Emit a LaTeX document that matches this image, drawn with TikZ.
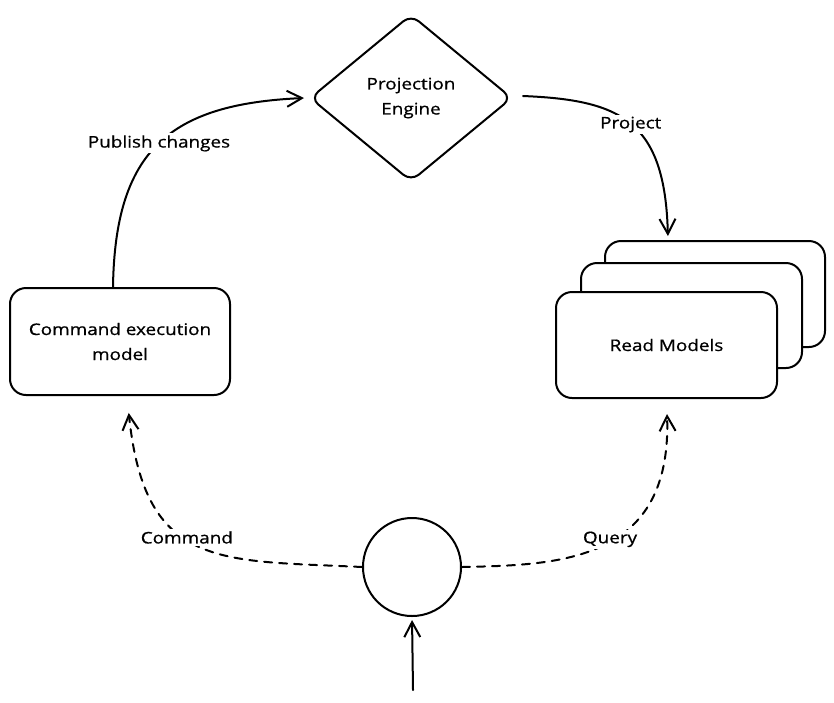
\documentclass[tikz,border=0pt]{standalone}
\usepackage{fontspec}
\setmainfont[FakeStretch=1.18,FakeBold=0.8]{Open Sans}
\usetikzlibrary{shapes.geometric,arrows.meta}
\begin{document}
\begin{tikzpicture}[x=1pt,y=-1pt,
  line width=2pt, line cap=round, line join=round,
  every node/.style={font=\fontsize{16}{25}\selectfont},
  box/.style={draw, rounded corners=16pt, fill=white, align=center, inner sep=0pt},
  lbl/.style={fill=white, inner sep=2pt},
  arr/.style={-{Straight Barb[length=15pt,width=16pt]}},
  dsh/.style={dash pattern=on 8pt off 7pt},
]
\useasboundingbox (0,0) rectangle (834,702);

\node[box, minimum width=220pt, minimum height=107pt] (cem) at (120,341.5) {Command execution\\model};
\node[box, minimum width=220pt, minimum height=106pt] (rm3) at (715,294) {};
\node[box, minimum width=221pt, minimum height=105pt] (rm2) at (691.5,315.5) {};
\node[box, minimum width=221pt, minimum height=106pt] (rm) at (666.5,345) {Read Models};
\node[draw, diamond, aspect=1.21, minimum width=202pt, minimum height=167pt,
      rounded corners=10pt, align=center, inner sep=0pt] (pe) at (411,98) {Projection\\Engine};
\node[draw, circle, minimum size=98pt, inner sep=0pt] (c) at (412,567) {};
\coordinate (in) at (413,690);

\draw[arr] ([xshift=-7pt]cem.north) .. controls (115,150) and (170,104) ..
  node[lbl, pos=0.5] {Publish changes} ([xshift=-5pt]pe.west);
\draw[arr, shorten >=4pt] ([xshift=10pt,yshift=2pt]pe.east) .. controls (620,100) and (665,120) ..
  node[lbl, pos=0.5] {Project} ([xshift=-47pt]rm3.north);
\draw[arr, dsh, shorten >=17pt] (c.west) .. controls (220,560) and (145,570) ..
  node[lbl, pos=0.55] {Command} ([xshift=7pt]cem.south);
\draw[arr, dsh, shorten >=15pt] (c.east) .. controls (560,565) and (672,562) ..
  node[lbl, pos=0.53] {Query} (rm.south);
\draw[arr, shorten >=3pt] (in) -- (c.south);
\end{tikzpicture}
\end{document}
